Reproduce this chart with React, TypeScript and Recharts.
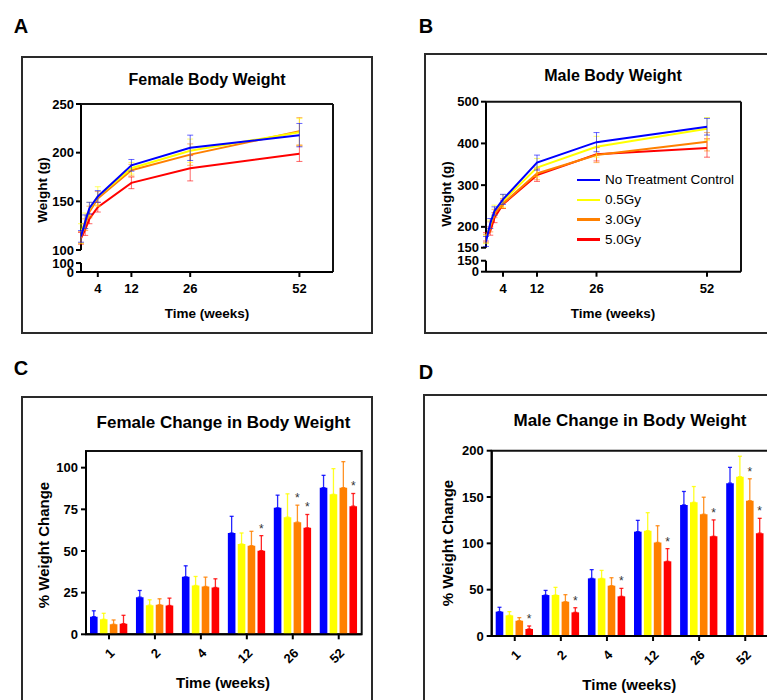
import React from "react";
import { LineChart, Line, BarChart, Bar, XAxis, YAxis, ErrorBar, ReferenceLine, ReferenceArea, LabelList } from "recharts";

// series shared by all four panels
const seriesNames = ["No Treatment Control", "0.5Gy", "3.0Gy", "5.0Gy"];
const seriesKeys = ["ctrl", "g05", "g30", "g50"];
const seriesColors = ["#0000FF", "#FFFF00", "#FF8000", "#FF0000"];

// A / B: body weight (g) by week
const weightWeeks = [0, 1, 2, 4, 12, 26, 52];
const timeTicks = [4, 12, 26, 52];

const femaleCtrl = [114, 129, 143, 155, 187, 205, 218];
const female05 = [117, 130, 142, 155, 184, 202, 221];
const female30 = [113, 126, 139, 153, 182, 198, 222];
const female50 = [112, 121, 132, 144, 169, 184, 199];
const femaleCtrlSd = [6, 7, 6, 6, 6, 13, 12];
const female05Sd = [10, 8, 7, 10, 6, 12, 14];
const female30Sd = [6, 6, 6, 7, 6, 11, 14];
const female50Sd = [6, 6, 5, 5, 6, 13, 8];

const maleCtrl = [165, 208, 238, 266, 354, 403, 440];
const male05 = [170, 206, 240, 262, 342, 392, 435];
const male30 = [172, 200, 232, 256, 328, 372, 404];
const male50 = [176, 190, 222, 254, 324, 374, 389];
const maleCtrlSd = [12, 12, 10, 12, 18, 23, 20];
const male05Sd = [10, 10, 12, 15, 22, 25, 27];
const male30Sd = [10, 12, 10, 12, 15, 18, 22];
const male50Sd = [10, 10, 12, 10, 15, 16, 22];

// C / D: % weight change by week
const changeWeeks = ["1", "2", "4", "12", "26", "52"];

const fChangeCtrl = [10.6, 22.3, 34.5, 60.8, 75.9, 88];
const fChange05 = [9, 17.5, 29.3, 54.2, 70.3, 84];
const fChange30 = [6, 17.7, 28.7, 53.2, 67.3, 88];
const fChange50 = [6.4, 17.3, 28.1, 50.2, 63.9, 76.9];
const fChangeCtrlSd = [3.5, 4, 6.6, 10, 7.6, 7.4];
const fChange05Sd = [3.6, 3.2, 5.4, 6.6, 14, 15.4];
const fChange30Sd = [2.6, 3.6, 5.6, 8.6, 10.2, 15.6];
const fChange50Sd = [5, 4.4, 5.2, 9, 8, 7.6];
const fSig30 = ["", "", "", "", "*", ""];
const fSig50 = ["", "", "", "*", "*", "*"];

const mChangeCtrl = [26.3, 44.2, 62.2, 112.6, 141.5, 165];
const mChange05 = [22.3, 44.2, 62.2, 113.7, 144.3, 172];
const mChange30 = [16.5, 37, 54.3, 101, 131.4, 146];
const mChange50 = [7.6, 25.5, 42.8, 80.6, 107.6, 111];
const mChangeCtrlSd = [4.7, 5, 9.4, 12.2, 14.5, 17];
const mChange05Sd = [4, 8.3, 8.6, 19.4, 17, 22];
const mChange30Sd = [3.3, 7.6, 8.6, 18, 18.4, 23.7];
const mChange50Sd = [3.2, 5, 8.6, 13.7, 17.7, 16];
const mSig30 = ["", "", "", "", "", "*"];
const mSig50 = ["*", "*", "*", "*", "*", "*"];

const noSig = ["", "", "", "", "", ""];

const axisStroke = { stroke: "#000", strokeWidth: 2 };
const tickStyle = { fontSize: 13, fontWeight: 700, fill: "#000" };

function weightRows(values: number[][], sds: number[][]) {
  return weightWeeks.map((week, i) => {
    const row: any = { week };
    seriesKeys.forEach((k, s) => {
      row[k] = values[s][i];
      row[k + "Sd"] = sds[s][i];
    });
    return row;
  });
}

function changeRows(values: number[][], sds: number[][], sigs: string[][]) {
  return changeWeeks.map((week, i) => {
    const row: any = { week };
    seriesKeys.forEach((k, s) => {
      row[k] = values[s][i];
      row[k + "Sd"] = [0, sds[s][i]];
      row[k + "Sig"] = sigs[s][i];
    });
    return row;
  });
}

function WeightPanel(props: any) {
  const { rows, left, top, width, height, margin, lo, stub, base, max, majorTicks, stubLabel } = props;
  const order = [3, 2, 1, 0];
  return (
    <div style={{ position: "absolute", left, top }}>
      <LineChart width={width} height={height} data={rows} margin={margin}>
        <XAxis
          type="number"
          dataKey="week"
          domain={[0, 60]}
          ticks={timeTicks}
          interval={0}
          height={60}
          tickSize={5}
          tickMargin={7}
          axisLine={axisStroke}
          tickLine={axisStroke}
          tick={tickStyle}
          allowDataOverflow
        />
        <YAxis
          type="number"
          domain={[lo, max]}
          ticks={[lo, stub, ...majorTicks]}
          interval={0}
          width={50}
          tickSize={5}
          tickMargin={2}
          axisLine={false}
          tickLine={axisStroke}
          tick={tickStyle}
          allowDataOverflow
          tickFormatter={(v: number) => (v === lo ? "0" : v === stub ? stubLabel : String(v))}
        />
        <ReferenceLine segment={[{ x: 0, y: base }, { x: 0, y: max }]} stroke="#000" strokeWidth={2} />
        <ReferenceLine segment={[{ x: 0, y: lo }, { x: 0, y: stub }]} stroke="#000" strokeWidth={2} />
        <ReferenceLine y={max} stroke="#111" strokeWidth={2} />
        <ReferenceLine x={60} stroke="#111" strokeWidth={2} />
        {order.map((s) => (
          <Line
            key={seriesKeys[s]}
            type="linear"
            dataKey={seriesKeys[s]}
            stroke={seriesColors[s]}
            strokeWidth={2}
            dot={false}
            isAnimationActive={false}
          >
            <ErrorBar
              dataKey={seriesKeys[s] + "Sd"}
              width={3}
              stroke={seriesColors[s]}
              strokeOpacity={0.6}
              strokeWidth={1}
              direction="y"
            />
          </Line>
        ))}
      </LineChart>
    </div>
  );
}

const AngledTick = (props: any) => {
  const { x, y, payload } = props;
  return (
    <text
      x={x}
      y={y}
      dy="0.71em"
      textAnchor="end"
      transform={`rotate(-45 ${x} ${y})`}
      fontSize={13}
      fontWeight={700}
      fill="#000"
    >
      {payload.value}
    </text>
  );
};

// star above the error bar; px per unit taken from the drawn bar itself
const starLabel = (vals: number[], sds: number[]) => (props: any) => {
  const vb = props.viewBox || props;
  const x = props.x ?? vb.x;
  const y = props.y ?? vb.y;
  const w = props.width ?? vb.width;
  const h = props.height ?? vb.height;
  const i = props.index;
  if (props.value !== "*" || i == null) return null;
  const pxPerUnit = h / vals[i];
  const cy = y - sds[i] * pxPerUnit - 3;
  return (
    <text x={x + w / 2} y={cy} textAnchor="middle" fontSize={12} fill="#333">
      *
    </text>
  );
};

function ChangePanel(props: any) {
  const { rows, values, sds, left, top, width, height, margin, max, yTicks } = props;
  return (
    <div style={{ position: "absolute", left, top }}>
      <BarChart width={width} height={height} data={rows} margin={margin} barSize={7.6} barGap={2.3}>
        <XAxis
          dataKey="week"
          interval={0}
          height={40}
          tickSize={5}
          tickMargin={8}
          axisLine={axisStroke}
          tickLine={axisStroke}
          tick={<AngledTick />}
        />
        <YAxis
          type="number"
          domain={[0, max]}
          ticks={yTicks}
          interval={0}
          width={50}
          tickSize={5}
          tickMargin={3}
          axisLine={axisStroke}
          tickLine={axisStroke}
          tick={tickStyle}
          allowDataOverflow
        />
        {/* plot frame */}
        <ReferenceArea y1={0} y2={max} fill="none" fillOpacity={0} stroke="#111" strokeWidth={2} />
        {seriesKeys.map((k, s) => (
          <Bar key={k} dataKey={k} fill={seriesColors[s]} isAnimationActive={false}>
            <ErrorBar
              dataKey={k + "Sd"}
              width={2}
              stroke={seriesColors[s]}
              strokeOpacity={0.85}
              strokeWidth={1.3}
              direction="y"
            />
            <LabelList dataKey={k + "Sig"} content={starLabel(values[s], sds[s])} />
          </Bar>
        ))}
      </BarChart>
    </div>
  );
}

function Txt(props: any) {
  const { x, y, size, weight = 700, rotate = false, children } = props;
  return (
    <div
      style={{
        position: "absolute",
        left: x,
        top: y,
        fontSize: size,
        fontWeight: weight,
        lineHeight: 1,
        whiteSpace: "nowrap",
        transform: `translate(-50%, -50%)${rotate ? " rotate(-90deg)" : ""}`,
      }}
    >
      {children}
    </div>
  );
}

function Frame(props: any) {
  const { left, top, width, height } = props;
  return (
    <div
      style={{
        position: "absolute",
        left,
        top,
        width,
        height,
        border: "2px solid #2a2a2a",
        boxSizing: "border-box",
      }}
    />
  );
}

export default function App() {
  const femaleVals = [femaleCtrl, female05, female30, female50];
  const femaleSds = [femaleCtrlSd, female05Sd, female30Sd, female50Sd];
  const maleVals = [maleCtrl, male05, male30, male50];
  const maleSds = [maleCtrlSd, male05Sd, male30Sd, male50Sd];

  const fcVals = [fChangeCtrl, fChange05, fChange30, fChange50];
  const fcSds = [fChangeCtrlSd, fChange05Sd, fChange30Sd, fChange50Sd];
  const mcVals = [mChangeCtrl, mChange05, mChange30, mChange50];
  const mcSds = [mChangeCtrlSd, mChange05Sd, mChange30Sd, mChange50Sd];

  // broken-axis stubs: bottom of the plot and the lower "100"/"150" tick
  const aLo = 77.4;
  const aStub = 86.6;
  const bLo = 92.5;
  const bStub = 118.8;

  return (
    <div
      style={{
        position: "absolute",
        left: 0,
        top: 0,
        width: 767,
        height: 700,
        overflow: "hidden",
        background: "#fff",
        color: "#000",
        fontFamily: "'Liberation Sans', Arial, sans-serif",
      }}
    >
      <Frame left={21} top={56} width={352} height={278} />
      <Frame left={424} top={53} width={360} height={281} />
      <Frame left={21} top={396} width={352} height={330} />
      <Frame left={423} top={394} width={360} height={330} />

      <WeightPanel
        rows={weightRows(femaleVals, femaleSds)}
        left={22}
        top={57}
        width={350}
        height={276}
        margin={{ top: 47, right: 39, bottom: 1, left: 9 }}
        lo={aLo}
        stub={aStub}
        base={100}
        max={250}
        majorTicks={[100, 150, 200, 250]}
        stubLabel="100"
      />
      <WeightPanel
        rows={weightRows(maleVals, maleSds)}
        left={425}
        top={54}
        width={342}
        height={279}
        margin={{ top: 47.7, right: 26, bottom: 1.3, left: 11 }}
        lo={bLo}
        stub={bStub}
        base={150}
        max={500}
        majorTicks={[150, 200, 300, 400, 500]}
        stubLabel="150"
      />
      <ChangePanel
        rows={changeRows(fcVals, fcSds, [noSig, noSig, fSig30, fSig50])}
        values={fcVals}
        sds={fcSds}
        left={22}
        top={397}
        width={350}
        height={303}
        margin={{ top: 54, right: 10.3, bottom: 25.7, left: 14 }}
        max={110}
        yTicks={[0, 25, 50, 75, 100]}
      />
      <ChangePanel
        rows={changeRows(mcVals, mcSds, [noSig, noSig, mSig30, mSig50])}
        values={mcVals}
        sds={mcSds}
        left={424}
        top={395}
        width={360}
        height={305}
        margin={{ top: 55.7, right: 15.7, bottom: 24, left: 17.7 }}
        max={200}
        yTicks={[0, 50, 100, 150, 200]}
      />

      <Txt x={21} y={25.5} size={20}>A</Txt>
      <Txt x={426} y={25.5} size={20}>B</Txt>
      <Txt x={21} y={368} size={20}>C</Txt>
      <Txt x={426} y={372} size={20}>D</Txt>

      <Txt x={207} y={80} size={16}>Female Body Weight</Txt>
      <Txt x={613} y={76} size={16}>Male Body Weight</Txt>
      <Txt x={223.5} y={421.7} size={17}>Female Change in Body Weight</Txt>
      <Txt x={630} y={420} size={17}>Male Change in Body Weight</Txt>

      <Txt x={43} y={190} size={13.5} rotate>Weight (g)</Txt>
      <Txt x={447} y={194} size={13.5} rotate>Weight (g)</Txt>
      <Txt x={207} y={314} size={13.5}>Time (weeks)</Txt>
      <Txt x={613} y={314} size={13.5}>Time (weeks)</Txt>

      <Txt x={43} y={544.5} size={15} rotate>% Weight Change</Txt>
      <Txt x={447.3} y={543.3} size={15} rotate>% Weight Change</Txt>
      <Txt x={223} y={681.7} size={15}>Time (weeks)</Txt>
      <Txt x={629.3} y={684} size={15}>Time (weeks)</Txt>

      <div style={{ position: "absolute", left: 577, top: 170.1 }}>
        {seriesNames.map((name, i) => (
          <div key={name} style={{ display: "flex", alignItems: "center", height: 19.8 }}>
            <span style={{ display: "inline-block", width: 23, height: 2.5, background: seriesColors[i], marginRight: 5 }} />
            <span style={{ fontSize: 13.5, lineHeight: 1 }}>{name}</span>
          </div>
        ))}
      </div>
    </div>
  );
}
